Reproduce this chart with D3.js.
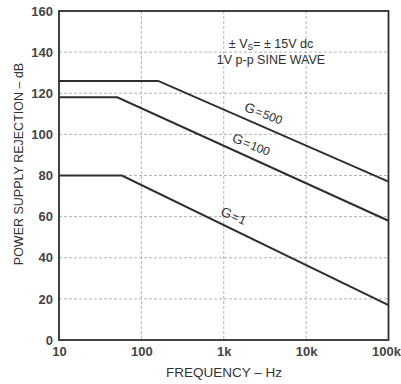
<!DOCTYPE html>
<html><head><meta charset="utf-8">
<script src="https://cdn.jsdelivr.net/npm/d3@7"></script>
<style>
body{margin:0;background:#fff;}
text{font-family:"Liberation Sans",Arial,Helvetica,sans-serif;}
</style></head>
<body><svg id="c" width="401" height="384"></svg>
<script>
// ---- data ----
const gainLabels = ["G=500", "G=100", "G=1"];
const flatDb = [126, 118, 80];        // low-frequency rejection plateau
const cornerHz = [160, 51, 58];       // break frequency
const endDb = [77, 58, 17];           // rejection at 100 kHz
const labelHz = [2700, 1900, 1150];   // where each label sits along its curve
const xTickValues = [10, 100, 1000, 10000, 100000];
const xTickLabels = ["10", "100", "1k", "10k", "100k"];
const yTickValues = [0, 20, 40, 60, 80, 100, 120, 140, 160];
const noteLines = ["1V p-p SINE WAVE"];

// ---- layout ----
const m = {left: 59, top: 11, right: 388.5, bottom: 340};
const svg = d3.select("#c");
const x = d3.scaleLog().domain([10, 100000]).range([m.left, m.right]);
const y = d3.scaleLinear().domain([0, 160]).range([m.bottom, m.top]);
const ink = "#2e2e2e";

// grid
const grid = svg.append("g");
grid.selectAll("line.h").data(yTickValues.filter(v => v > 0 && v < 160)).enter()
  .append("line").attr("x1", m.left).attr("x2", m.right)
  .attr("y1", d => y(d)).attr("y2", d => y(d))
  .attr("stroke", "#b4b4b4").attr("stroke-width", 1).attr("stroke-dasharray", "3,2");
grid.selectAll("line.v").data(xTickValues.slice(1, -1)).enter()
  .append("line").attr("y1", m.top).attr("y2", m.bottom)
  .attr("x1", d => x(d)).attr("x2", d => x(d))
  .attr("stroke", "#b4b4b4").attr("stroke-width", 1).attr("stroke-dasharray", "3,2");

// axes
const xAxis = d3.axisBottom(x).tickValues(xTickValues)
  .tickFormat((d, i) => xTickLabels[i]).tickSize(0).tickPadding(7);
const gx = svg.append("g").attr("transform", `translate(0,${m.bottom})`).call(xAxis);
gx.select(".domain").remove();
gx.selectAll("text").attr("font-size", 13).attr("font-weight", "bold").attr("fill", "#444");
gx.selectAll("text").filter((d, i) => i === xTickValues.length - 1).attr("text-anchor", "end").attr("dx", 12);

const yAxis = d3.axisLeft(y).tickValues(yTickValues).tickSize(0).tickPadding(6);
const gy = svg.append("g").attr("transform", `translate(${m.left},0)`).call(yAxis);
gy.select(".domain").remove();
gy.selectAll("text").attr("font-size", 13).attr("font-weight", "bold").attr("fill", "#444");

// frame
svg.append("rect").attr("x", m.left).attr("y", m.top)
  .attr("width", m.right - m.left).attr("height", m.bottom - m.top)
  .attr("fill", "none").attr("stroke", ink).attr("stroke-width", 1.8);

// curves
const line = d3.line().x(d => x(d[0])).y(d => y(d[1]));
const slopeDb = (i, f) => flatDb[i] + (endDb[i] - flatDb[i]) *
  (Math.log10(f) - Math.log10(cornerHz[i])) / (5 - Math.log10(cornerHz[i]));
gainLabels.forEach((g, i) => {
  const pts = [[10, flatDb[i]], [cornerHz[i], flatDb[i]], [100000, endDb[i]]];
  svg.append("path").datum(pts).attr("d", line)
    .attr("fill", "none").attr("stroke", ink).attr("stroke-width", 2);
  const f = labelHz[i];
  const px = x(f), py = y(slopeDb(i, f));
  const ang = Math.atan2(y(endDb[i]) - y(flatDb[i]), x(100000) - x(cornerHz[i])) * 180 / Math.PI;
  const parts = g.split("=");
  const t = svg.append("text")
    .attr("transform", `translate(${px},${py}) rotate(${ang - 3}) translate(0,-8)`)
    .attr("text-anchor", "middle").attr("font-size", 13.5).attr("fill", ink);
  t.append("tspan").text(parts[0]);
  t.append("tspan").attr("font-size", 12).attr("dx", 1).text("=");
  t.append("tspan").attr("font-size", 12).attr("dx", 1).text(parts[1]);
});

// annotation
const note = svg.append("text").attr("x", 271).attr("y", 48)
  .attr("text-anchor", "middle").attr("font-size", 12.5).attr("fill", ink);
note.append("tspan").text("± V");
note.append("tspan").attr("font-size", 8.5).attr("dy", 2).text("S");
note.append("tspan").attr("dy", -2).text("= ± 15V dc");
noteLines.forEach((s, i) => {
  svg.append("text").attr("x", 271).attr("y", 64 + i * 14)
    .attr("text-anchor", "middle").attr("font-size", 12.5).attr("fill", ink).text(s);
});

// axis titles
svg.append("text").attr("x", 224).attr("y", 377)
  .attr("text-anchor", "middle").attr("font-size", 13.5).attr("fill", "#333")
  .text("FREQUENCY – Hz");
svg.append("text").attr("transform", "translate(23,164) rotate(-90)")
  .attr("text-anchor", "middle").attr("font-size", 12.5).attr("fill", "#333")
  .text("POWER SUPPLY REJECTION – dB");
</script></body></html>
